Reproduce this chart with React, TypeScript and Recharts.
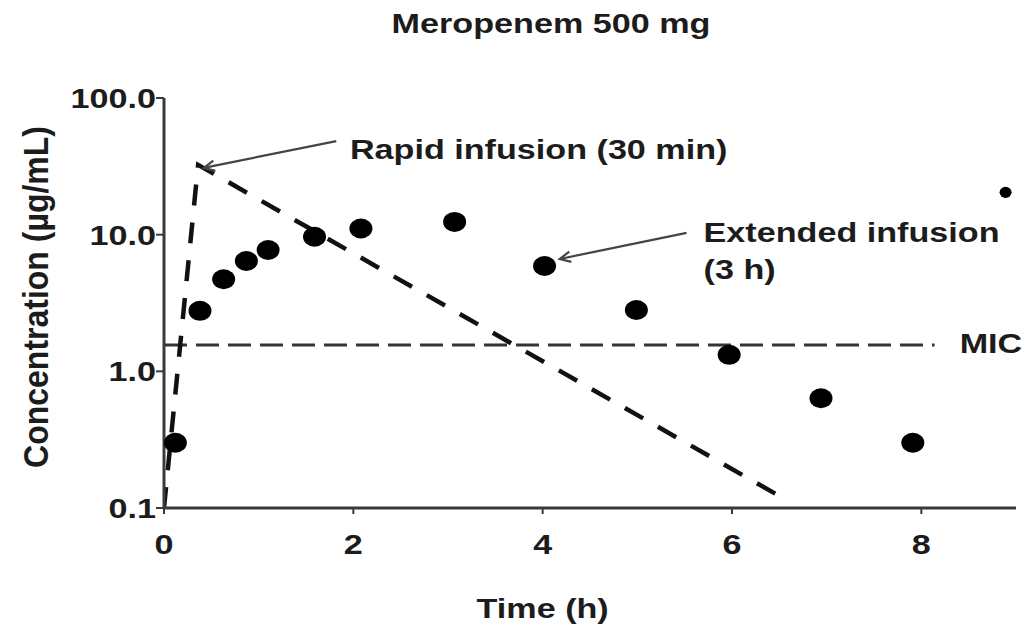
import React from 'react';
import {
  ComposedChart,
  XAxis,
  YAxis,
  Line,
  Scatter,
  ReferenceLine,
  ReferenceDot,
} from 'recharts';

// ---------- data ----------
const extTime = [0.12, 0.38, 0.63, 0.87, 1.1, 1.59, 2.08, 3.07, 4.02, 4.99, 5.97, 6.94, 7.91];
const extConc = [0.3, 2.77, 4.72, 6.42, 7.72, 9.66, 11.1, 12.4, 5.9, 2.81, 1.32, 0.635, 0.3];
const strayTime = [8.89];
const strayConc = [20.4];
const rapidTime = [0.0, 0.36, 6.55];
const rapidConc = [0.1, 32.4, 0.117];
const micTime = [0, 8.14];
const micConc = [1.56, 1.56];
const xTicks = [0, 2, 4, 6, 8];
const yTicks = [0.1, 1, 10, 100];
const yTickLabels = ['0.1', '1.0', '10.0', '100.0'];

// annotation anchors (data coordinates)
const rapidArrowFrom = { x: 1.82, y: 48.4 };
const rapidArrowTo = { x: 0.42, y: 30.8 };
const extArrowFrom = { x: 5.52, y: 10.3 };
const extArrowTo = { x: 4.18, y: 6.64 };
const annoText = ['Rapid infusion (30 min)', 'Extended infusion', '(3 h)', 'MIC'];
const annoX = [1.964, 5.7, 5.7, 8.405];
const annoY = [35.8, 8.85, 4.74, 1.365];

const TITLE = 'Meropenem 500 mg';
const X_LABEL = 'Time (h)';
const Y_LABEL = 'Concentration (µg/mL)';

// ---------- style ----------
const FONT = '"Liberation Sans", Arial, Helvetica, sans-serif';
const SX = 1.22;
const INK = '#1c1c1c';
const AXIS = '#3a3a3a';

const extData = extTime.map((x, i) => ({ x, y: extConc[i] }));
const strayData = strayTime.map((x, i) => ({ x, y: strayConc[i] }));
const rapidData = rapidTime.map((x, i) => ({ x, y: rapidConc[i] }));
const micData = micTime.map((x, i) => ({ x, y: micConc[i] }));

const BoldText = ({ x, y, anchor = 'start', size = 28, children }: any) => (
  <text
    transform={`translate(${x},${y}) scale(${SX},1)`}
    textAnchor={anchor}
    fontFamily={FONT}
    fontWeight="bold"
    fontSize={size}
    fill={INK}
  >
    {children}
  </text>
);

const XTick = (p: any) => (
  <BoldText x={p.x} y={p.y + 38} anchor="middle">
    {p.payload.value}
  </BoldText>
);

const YTick = (p: any) => {
  const idx = yTicks.indexOf(p.payload.value);
  return (
    <BoldText x={p.x + 2} y={p.y + 10} anchor="end">
      {idx >= 0 ? yTickLabels[idx] : String(p.payload.value)}
    </BoldText>
  );
};

const XLabel = (p: any) => {
  const vb = p.viewBox || {};
  return (
    <BoldText x={vb.x + (vb.width * 4) / 9} y={vb.y + 110} anchor="middle">
      {X_LABEL}
    </BoldText>
  );
};

const YLabel = (p: any) => {
  const vb = p.viewBox || {};
  return (
    <text
      transform={`translate(${vb.x - 16},${vb.y + vb.height / 2 - 6}) scale(1.08,1) rotate(-90)`}
      textAnchor="middle"
      fontFamily={FONT}
      fontWeight="bold"
      fontSize={32}
      fill={INK}
    >
      {Y_LABEL}
    </text>
  );
};

const Arrow = (p: any) => {
  const { x1, y1, x2, y2 } = p;
  const ang = Math.atan2(y2 - y1, x2 - x1);
  const L = 12;
  const W = 0.45;
  const ax = x2 - L * Math.cos(ang - W);
  const ay = y2 - L * Math.sin(ang - W);
  const bx = x2 - L * Math.cos(ang + W);
  const by = y2 - L * Math.sin(ang + W);
  return (
    <g>
      <line x1={x1} y1={y1} x2={x2} y2={y2} stroke="#444" strokeWidth={2.2} />
      <polyline
        points={`${ax},${ay} ${x2},${y2} ${bx},${by}`}
        fill="none"
        stroke="#444"
        strokeWidth={2.2}
      />
    </g>
  );
};

const BigDot = (p: any) => <ellipse cx={p.cx} cy={p.cy} rx={11.5} ry={10} fill="#000" />;
const SmallDot = (p: any) => <ellipse cx={p.cx} cy={p.cy} rx={6} ry={5.6} fill="#000" />;

export default function App() {
  return (
    <div style={{ position: 'absolute', left: 0, top: 0, background: '#fff' }}>
      <ComposedChart
        width={1026}
        height={627}
        margin={{ top: 98, right: 10, bottom: 79, left: 64 }}
        style={{ background: '#fff' }}
      >
        <text
          transform={`translate(551,33) scale(${SX},1)`}
          textAnchor="middle"
          fontFamily={FONT}
          fontWeight="bold"
          fontSize={28}
          fill={INK}
        >
          {TITLE}
        </text>
        <XAxis
          type="number"
          dataKey="x"
          domain={[0, 9]}
          ticks={xTicks}
          allowDataOverflow
          height={40}
          tickSize={6}
          axisLine={{ stroke: AXIS, strokeWidth: 3 }}
          tickLine={{ stroke: AXIS, strokeWidth: 2 }}
          tick={XTick}
          label={{ content: XLabel }}
        />
        <YAxis
          type="number"
          scale="log"
          domain={[0.1, 100]}
          ticks={yTicks}
          allowDataOverflow
          width={100}
          tickSize={8}
          axisLine={{ stroke: AXIS, strokeWidth: 3 }}
          tickLine={{ stroke: AXIS, strokeWidth: 2 }}
          tick={YTick}
          label={{ content: YLabel }}
        />
        <Line
          data={micData}
          dataKey="y"
          type="linear"
          stroke="#333"
          strokeWidth={3}
          strokeDasharray="23 9"
          dot={false}
          isAnimationActive={false}
        />
        <Line
          data={rapidData}
          dataKey="y"
          type="linear"
          stroke="#111"
          strokeWidth={4.5}
          strokeDasharray="21 17"
          dot={false}
          isAnimationActive={false}
        />
        <Scatter data={extData} dataKey="y" shape={BigDot} isAnimationActive={false} />
        <Scatter data={strayData} dataKey="y" shape={SmallDot} isAnimationActive={false} />
        <ReferenceLine segment={[rapidArrowFrom, rapidArrowTo]} shape={Arrow} ifOverflow="visible" />
        <ReferenceLine segment={[extArrowFrom, extArrowTo]} shape={Arrow} ifOverflow="visible" />
        {annoText.map((t, i) => (
          <ReferenceDot
            key={t}
            x={annoX[i]}
            y={annoY[i]}
            r={0}
            ifOverflow="visible"
            shape={(p: any) => (
              <BoldText x={p.cx} y={p.cy}>
                {t}
              </BoldText>
            )}
          />
        ))}
      </ComposedChart>
    </div>
  );
}
